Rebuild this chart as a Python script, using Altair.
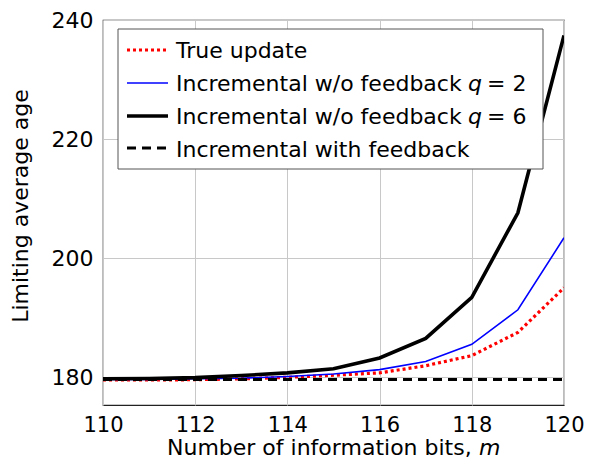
import altair as alt
import pandas as pd

# ---- data ----
m_bits = [110, 111, 112, 113, 114, 115, 116, 117, 118, 119, 120]
true_update = [179.5, 179.5, 179.55, 179.7, 179.95, 180.3, 180.7, 181.9, 183.6, 187.5, 195.0]
incr_q2 = [179.6, 179.6, 179.7, 179.8, 180.1, 180.5, 181.25, 182.6, 185.5, 191.3, 203.4]
incr_q6 = [179.7, 179.75, 179.9, 180.25, 180.7, 181.4, 183.2, 186.5, 193.4, 207.6, 237.4]
incr_feedback = [179.6, 179.6, 179.6, 179.6, 179.6, 179.6, 179.6, 179.6, 179.6, 179.6, 179.6]

x_ticks = [110, 112, 114, 116, 118, 120]
y_ticks = [180, 200, 220, 240]

legend_labels = ["True update", "Incremental w/o feedback ", "Incremental w/o feedback ",
                 "Incremental with feedback"]
legend_q = ["", "q", "q", ""]
legend_q_val = ["", "= 2", "= 6", ""]

FONT = "DejaVu Sans"
FS = 22
W, H = 461, 385

xs = alt.Scale(domain=[110, 120], nice=False, zero=False)
ys = alt.Scale(domain=[175.3, 240], nice=False, zero=False)

styles = [
    (true_update, "#ff0000", 3.2, [3, 3]),
    (incr_q2, "#0000ff", 1.6, None),
    (incr_q6, "#000000", 3.6, None),
    (incr_feedback, "#000000", 3.0, [9, 6]),
]


def series(vals, color, width, dash):
    df = pd.DataFrame({"m": m_bits, "v": vals})
    kw = dict(color=color, strokeWidth=width, clip=True, strokeCap="butt")
    if dash:
        kw["strokeDash"] = dash
    return alt.Chart(df).mark_line(**kw).encode(
        x=alt.X("m:Q", scale=xs,
                axis=alt.Axis(values=x_ticks, title=None, labelPadding=9,
                              labelFontSize=21,
                              labelFlush=False, labelOverlap=False)),
        y=alt.Y("v:Q", scale=ys,
                axis=alt.Axis(values=y_ticks, title=None, labelPadding=10)),
    )


layers = [series(*s) for s in styles]

one = alt.Data(values=[{"a": 1}])

# legend box
layers.append(
    alt.Chart(one).mark_rect(fill="white", stroke="#555555", strokeWidth=1).encode(
        x=alt.value(15), x2=alt.value(440), y=alt.value(9), y2=alt.value(149)
    )
)

row_line_y = [30, 63, 96, 128]
row_text_y = [38, 71, 104, 137]
for i, (vals, color, width, dash) in enumerate(styles):
    kw = dict(color=color, strokeWidth=width, strokeCap="butt")
    if dash:
        kw["strokeDash"] = dash
    layers.append(
        alt.Chart(one).mark_rule(**kw).encode(
            x=alt.value(24), x2=alt.value(65), y=alt.value(row_line_y[i])
        )
    )
    layers.append(
        alt.Chart(one).mark_text(text=legend_labels[i], align="left", baseline="alphabetic",
                                 font=FONT, fontSize=FS, color="black").encode(
            x=alt.value(73), y=alt.value(row_text_y[i])
        )
    )
    if legend_q[i]:
        layers.append(
            alt.Chart(one).mark_text(text=legend_q[i], align="left", baseline="alphabetic",
                                     font=FONT, fontSize=FS, fontStyle="italic",
                                     color="black").encode(
                x=alt.value(365), y=alt.value(row_text_y[i])
            )
        )
        layers.append(
            alt.Chart(one).mark_text(text=legend_q_val[i], align="left", baseline="alphabetic",
                                     font=FONT, fontSize=FS, color="black").encode(
                x=alt.value(384), y=alt.value(row_text_y[i])
            )
        )

# axis titles
layers.append(
    alt.Chart(one).mark_text(text="Number of information bits, ", align="left",
                             baseline="alphabetic", font=FONT, fontSize=FS,
                             color="black").encode(x=alt.value(64), y=alt.value(435))
)
layers.append(
    alt.Chart(one).mark_text(text="m", align="left", baseline="alphabetic", font=FONT,
                             fontSize=FS, fontStyle="italic",
                             color="black").encode(x=alt.value(376), y=alt.value(435))
)
layers.append(
    alt.Chart(one).mark_text(text="Limiting average age", align="center", baseline="alphabetic",
                             angle=270, font=FONT, fontSize=FS,
                             color="black").encode(x=alt.value(-75), y=alt.value(186))
)

chart = alt.layer(*layers).properties(
    width=W, height=H,
    autosize=alt.AutoSizeParams(type="none"),
    padding={"left": 95, "top": 12, "right": 20, "bottom": 55},
).configure_view(
    stroke="#222222", strokeWidth=1.2
).configure_axis(
    grid=True, gridColor="#c8c8c8", gridWidth=1, domain=False, ticks=False,
    labelFont=FONT, labelFontSize=FS, labelColor="black",
)

chart.save("out.html", embed_options={"renderer": "svg", "actions": False})
